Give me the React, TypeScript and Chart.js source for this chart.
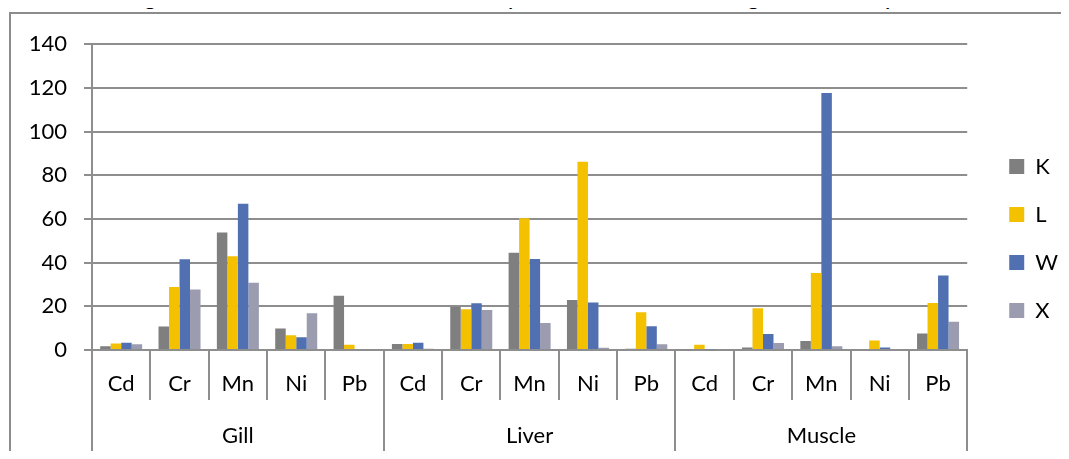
import React, { useEffect, useRef } from 'react';
import { Chart, registerables } from 'chart.js';

Chart.register(...registerables);

const metals = ['Cd', 'Cr', 'Mn', 'Ni', 'Pb'];
const organs = ['Gill', 'Liver', 'Muscle'];
const categories = [...metals, ...metals, ...metals];
const seriesNames = ['K', 'L', 'W', 'X'];
const seriesColors = ['#7f7f7f', '#f4c100', '#5170b1', '#9b9caf'];

const kValues = [1.7, 10.8, 53.8, 9.8, 24.8, 2.7, 19.8, 44.5, 22.9, 0.6, 0.4, 1.1, 4.1, 0.5, 7.6];
const lValues = [3.0, 28.8, 42.9, 6.8, 2.4, 2.7, 18.6, 60.3, 86.2, 17.3, 2.4, 19.1, 35.2, 4.4, 21.5];
const wValues = [3.3, 41.5, 67.0, 5.8, 0, 3.3, 21.4, 41.7, 21.7, 10.9, 0.4, 7.3, 117.7, 1.2, 34.1];
const xValues = [2.6, 27.7, 30.8, 16.8, 0, 0.6, 18.3, 12.4, 1.0, 2.6, 0, 3.2, 1.7, 0.3, 12.9];
const seriesValues = [kValues, lValues, wValues, xValues];

const yMin = 0;
const yMax = 140;
const yStep = 20;

const titleText = 'Figure: Mean concentration of heavy metals in different organs of fish species';

const FONT = "Lato, 'Open Sans', sans-serif";
const GRID = '#8e8e8e';

export default function App() {
  const ref = useRef<HTMLCanvasElement | null>(null);

  useEffect(() => {
    document.documentElement.style.overflow = 'hidden';
    document.body.style.overflow = 'hidden';
    if (!ref.current) return;
    const chart = new Chart(ref.current, {
      type: 'bar',
      data: {
        labels: categories,
        datasets: seriesNames.map((name, i) => ({
          label: name,
          data: seriesValues[i],
          backgroundColor: seriesColors[i],
          borderWidth: 0,
          categoryPercentage: 0.72,
          barPercentage: 1,
          xAxisID: 'x',
          yAxisID: 'y',
        })),
      },
      options: {
        responsive: false,
        animation: false,
        layout: { padding: { left: 11, top: 11, right: 1, bottom: 7 } },
        plugins: {
          title: {
            display: true,
            text: ' ',
            font: { family: FONT, size: 10, lineHeight: 1.2 },
            padding: { top: 0, bottom: 5 },
          },
          tooltip: { enabled: false },
          legend: {
            position: 'right',
            align: 'center',
            labels: {
              boxWidth: 15,
              boxHeight: 15,
              padding: 26,
              color: '#000',
              font: { family: FONT, size: 22 },
            },
          },
        },
        scales: {
          x: {
            type: 'category',
            position: 'bottom',
            weight: 0,
            offset: true,
            grid: {
              offset: true,
              drawOnChartArea: false,
              drawTicks: true,
              tickLength: 50,
              color: GRID,
              lineWidth: 2,
            },
            border: { display: true, color: GRID, width: 2 },
            ticks: {
              color: '#000',
              font: { family: FONT, size: 22 },
              padding: -29,
              maxRotation: 0,
              autoSkip: false,
            },
            afterFit: (s: any) => {
              s.height = 50;
            },
          },
          x2: {
            type: 'category',
            labels: organs,
            position: 'bottom',
            weight: 1,
            offset: true,
            grid: {
              offset: true,
              drawOnChartArea: false,
              drawTicks: true,
              tickLength: 52,
              color: GRID,
              lineWidth: 2,
            },
            border: { display: false },
            ticks: {
              color: '#000',
              font: { family: FONT, size: 22 },
              padding: -29,
              maxRotation: 0,
              autoSkip: false,
            },
            afterFit: (s: any) => {
              s.height = 52;
            },
          },
          y: {
            type: 'linear',
            position: 'left',
            min: yMin,
            max: yMax,
            grid: {
              color: GRID,
              lineWidth: 2,
              drawTicks: true,
              tickLength: 8,
            },
            border: { display: true, color: GRID, width: 2 },
            ticks: {
              stepSize: yStep,
              color: '#000',
              font: { family: FONT, size: 22 },
              padding: 17,
            },
            afterFit: (s: any) => {
              s.width = 70;
            },
          },
          yR: {
            type: 'linear',
            position: 'right',
            display: true,
            grid: { display: false, drawTicks: false },
            border: { display: false },
            ticks: { display: false },
            afterFit: (s: any) => {
              s.width = 16;
            },
          },
        },
      },
    } as any);
    return () => chart.destroy();
  }, []);

  return (
    <div
      style={{
        position: 'relative',
        margin: '-8px 0 -8px -8px',
        width: 1069,
        height: 459,
        overflow: 'hidden',
        background: '#fff',
      }}
    >
      <div
        style={{
          position: 'absolute',
          left: 126,
          top: -18,
          height: 26,
          fontFamily: FONT,
          fontStyle: 'italic',
          fontSize: 26,
          lineHeight: '26px',
          whiteSpace: 'nowrap',
          color: '#000',
          zIndex: 2,
        }}
      >
        {titleText}
      </div>
      <div
        style={{
          position: 'absolute',
          left: 9,
          top: 12,
          width: 1100,
          height: 500,
          border: '2px solid #8c8c8c',
          boxSizing: 'border-box',
        }}
      />
      <canvas
        ref={ref}
        width={1058}
        height={445}
        style={{ position: 'absolute', left: 11, top: 14 }}
      />
    </div>
  );
}
